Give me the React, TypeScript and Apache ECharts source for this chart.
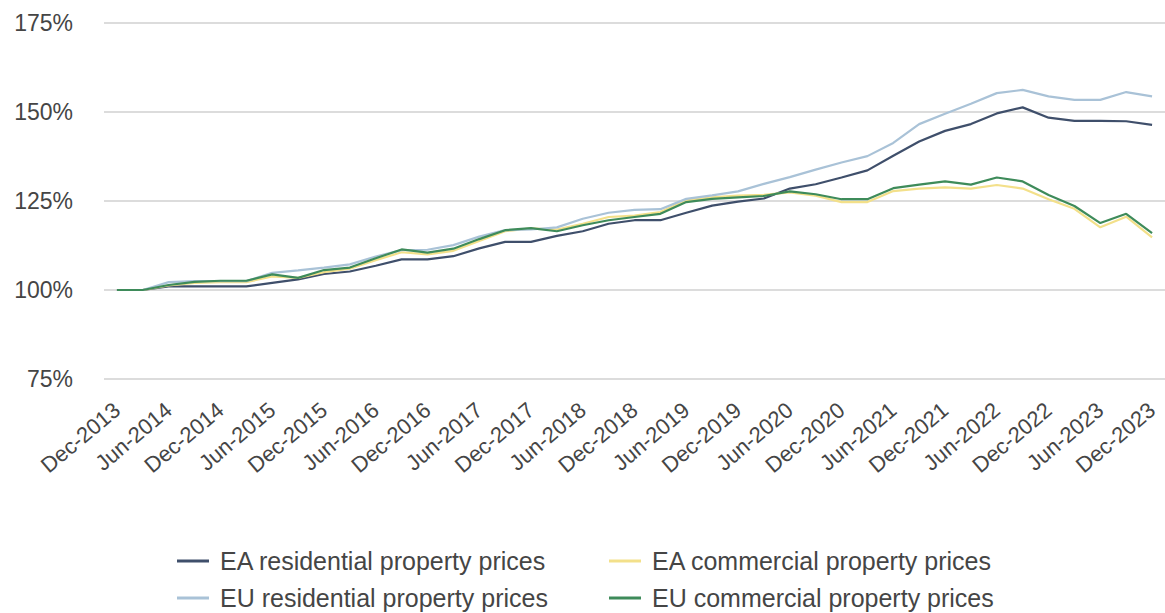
import React, { useEffect, useRef } from "react";
import * as echarts from "echarts";

const quarters = [
  "Dec-2013", "Mar-2014", "Jun-2014", "Sep-2014", "Dec-2014", "Mar-2015", "Jun-2015", "Sep-2015",
  "Dec-2015", "Mar-2016", "Jun-2016", "Sep-2016", "Dec-2016", "Mar-2017", "Jun-2017", "Sep-2017",
  "Dec-2017", "Mar-2018", "Jun-2018", "Sep-2018", "Dec-2018", "Mar-2019", "Jun-2019", "Sep-2019",
  "Dec-2019", "Mar-2020", "Jun-2020", "Sep-2020", "Dec-2020", "Mar-2021", "Jun-2021", "Sep-2021",
  "Dec-2021", "Mar-2022", "Jun-2022", "Sep-2022", "Dec-2022", "Mar-2023", "Jun-2023", "Sep-2023",
  "Dec-2023",
];

const eaResidential = [
  100, 100, 101, 101, 101, 101, 102, 103, 104.5, 105.2, 106.8, 108.6, 108.6, 109.5, 111.7, 113.5,
  113.5, 115.2, 116.5, 118.6, 119.6, 119.6, 121.7, 123.7, 124.8, 125.7, 128.5, 129.7, 131.6, 133.6,
  137.7, 141.7, 144.7, 146.6, 149.6, 151.3, 148.4, 147.5, 147.5, 147.4, 146.4,
];
const eaCommercial = [
  100, 100, 101.3, 102, 102.2, 102.2, 103.8, 103.4, 105, 106, 108.4, 110.6, 110, 111, 113.8, 116.5,
  117.3, 117, 118.6, 120.5, 120.9, 121.9, 125.2, 126, 126.5, 126.7, 127.4, 126.5, 124.7, 124.7,
  127.8, 128.5, 128.8, 128.5, 129.5, 128.5, 125.5, 122.8, 117.6, 120.6, 114.8,
];
const euResidential = [
  100, 100, 102.2, 102.5, 102.5, 102.5, 104.8, 105.5, 106.3, 107.2, 109.4, 111.2, 111.3, 112.6, 115,
  116.8, 117, 117.6, 120, 121.7, 122.5, 122.7, 125.6, 126.6, 127.7, 129.8, 131.7, 133.8, 135.8,
  137.6, 141.3, 146.6, 149.5, 152.3, 155.3, 156.2, 154.4, 153.4, 153.4, 155.6, 154.4,
];
const euCommercial = [
  100, 100, 101.4, 102.3, 102.6, 102.6, 104.4, 103.4, 105.6, 106.3, 108.9, 111.4, 110.5, 111.6,
  114.3, 116.8, 117.4, 116.5, 118.2, 119.6, 120.5, 121.4, 124.7, 125.6, 126, 126.4, 127.7, 126.9,
  125.5, 125.5, 128.6, 129.6, 130.5, 129.6, 131.6, 130.5, 126.7, 123.6, 118.8, 121.4, 116,
];

const seriesNames = [
  "EA residential property prices",
  "EA commercial property prices",
  "EU residential property prices",
  "EU commercial property prices",
];
const seriesColors = ["#3f4f6b", "#f3e08a", "#a9c2d7", "#3e8b5a"];

const FONT = "'Liberation Sans', Arial, sans-serif";
const TEXT = "#454545";

// legend slot positions: [left, top] for each series
const legendSlots: [number, number][] = [
  [177, 548],
  [609, 548],
  [177, 585],
  [609, 585],
];

export default function App() {
  const ref = useRef<HTMLDivElement>(null);
  useEffect(() => {
    if (!ref.current) return;
    const chart = echarts.init(ref.current, null, { renderer: "svg" });
    const values = [eaResidential, eaCommercial, euResidential, euCommercial];
    chart.setOption({
      animation: false,
      backgroundColor: "#ffffff",
      textStyle: { fontFamily: FONT },
      grid: { left: 104, right: -5, top: 23, bottom: 234, containLabel: false },
      legend: seriesNames.map((name, i) => ({
        data: [name],
        left: legendSlots[i][0],
        top: legendSlots[i][1],
        padding: 0,
        icon: "rect",
        itemWidth: 32,
        itemHeight: 3,
        itemStyle: { borderWidth: 0 },
        textStyle: { fontSize: 25, color: TEXT, fontFamily: FONT, padding: [0, 0, 0, 6], lineHeight: 26 },
      })),
      xAxis: {
        type: "category",
        data: quarters,
        boundaryGap: true,
        axisLine: { show: false },
        axisTick: { show: false },
        axisLabel: {
          interval: 1,
          rotate: 40,
          margin: 28,
          fontSize: 22,
          color: TEXT,
          fontFamily: FONT,
        },
      },
      yAxis: {
        type: "value",
        min: 75,
        max: 175,
        interval: 25,
        axisLine: { show: false },
        axisTick: { show: false },
        axisLabel: {
          formatter: "{value}%",
          fontSize: 23,
          color: TEXT,
          margin: 31,
          fontFamily: FONT,
        },
        splitLine: { lineStyle: { color: "#d0d0d0", width: 1.5 } },
      },
      series: values.map((v, i) => ({
        name: seriesNames[i],
        type: "line",
        data: v,
        showSymbol: false,
        symbol: "none",
        color: seriesColors[i],
        lineStyle: { width: 2.2, color: seriesColors[i] },
      })),
    });
    return () => chart.dispose();
  }, []);
  return (
    <div
      ref={ref}
      style={{ position: "absolute", left: 0, top: 0, width: 1165, height: 613 }}
    />
  );
}
